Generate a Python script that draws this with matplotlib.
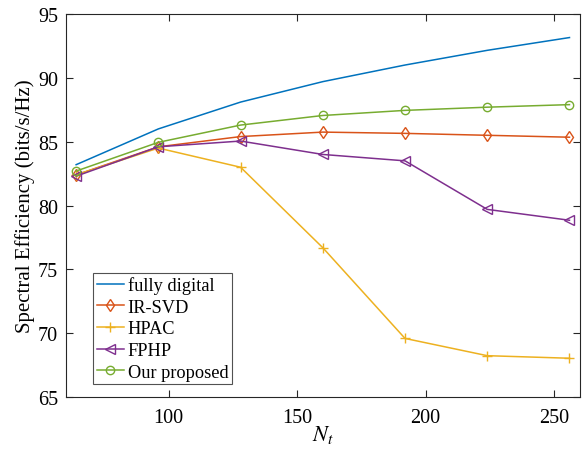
import matplotlib
matplotlib.use('Agg')
import matplotlib.pyplot as plt

plt.rcParams['font.family'] = ['Liberation Serif', 'DejaVu Serif']
plt.rcParams['mathtext.fontset'] = 'stix'

nt = [64, 96, 128, 160, 192, 224, 256]
fully_digital = [83.2, 86.0, 88.1, 89.7, 91.0, 92.15, 93.15]
ir_svd = [82.4, 84.6, 85.4, 85.75, 85.65, 85.5, 85.35]
hpac = [82.4, 84.5, 83.0, 76.7, 69.6, 68.25, 68.05]
fphp = [82.3, 84.6, 85.05, 84.0, 83.5, 79.7, 78.85]
proposed = [82.7, 84.95, 86.3, 87.05, 87.45, 87.7, 87.9]

xticks = [100, 150, 200, 250]
yticks = [65, 70, 75, 80, 85, 90, 95]

fig = plt.figure(figsize=(5.88, 4.52), dpi=100)
ax = fig.add_axes([0.112, 0.119, 0.874, 0.848])

ax.plot(nt, fully_digital, color='#0072BD', lw=1.1, label='fully digital')
ax.plot(nt, ir_svd, color='#D95319', lw=1.1, marker='d', ms=6,
        mfc='none', mew=1.0, label='IR-SVD')
ax.plot(nt, hpac, color='#EDB120', lw=1.1, marker='+', ms=7,
        mew=1.0, label='HPAC')
ax.plot(nt, fphp, color='#7E2F8E', lw=1.1, marker='<', ms=6.5,
        mfc='none', mew=1.0, label='FPHP')
ax.plot(nt, proposed, color='#77AC30', lw=1.1, marker='o', ms=6,
        mfc='none', mew=1.0, label='Our proposed')

ax.set_xlim(60, 260)
ax.set_ylim(65, 95)
ax.set_xticks(xticks)
ax.set_yticks(yticks)
ax.tick_params(direction='in', top=True, right=True, labelsize=14.5,
               color='#262626', length=5, width=0.8)
ax.tick_params(axis='x', pad=8)
ax.tick_params(axis='y', pad=5.5)
for s in ax.spines.values():
    s.set_color('#262626')
    s.set_linewidth(0.8)

ax.set_xlabel('$N_t$', fontsize=16, labelpad=-3)
ax.set_ylabel('Spectral Efficiency (bits/s/Hz)', fontsize=15, labelpad=2)

leg = ax.legend(loc='lower left', bbox_to_anchor=(0.0525, 0.034), fontsize=13.2,
                frameon=True, fancybox=False, edgecolor='#262626',
                handlelength=1.5, handletextpad=0.2, borderpad=0.2,
                labelspacing=0.25, borderaxespad=0.0)
leg.get_frame().set_linewidth(0.8)

fig.savefig('out.png', dpi=100)
